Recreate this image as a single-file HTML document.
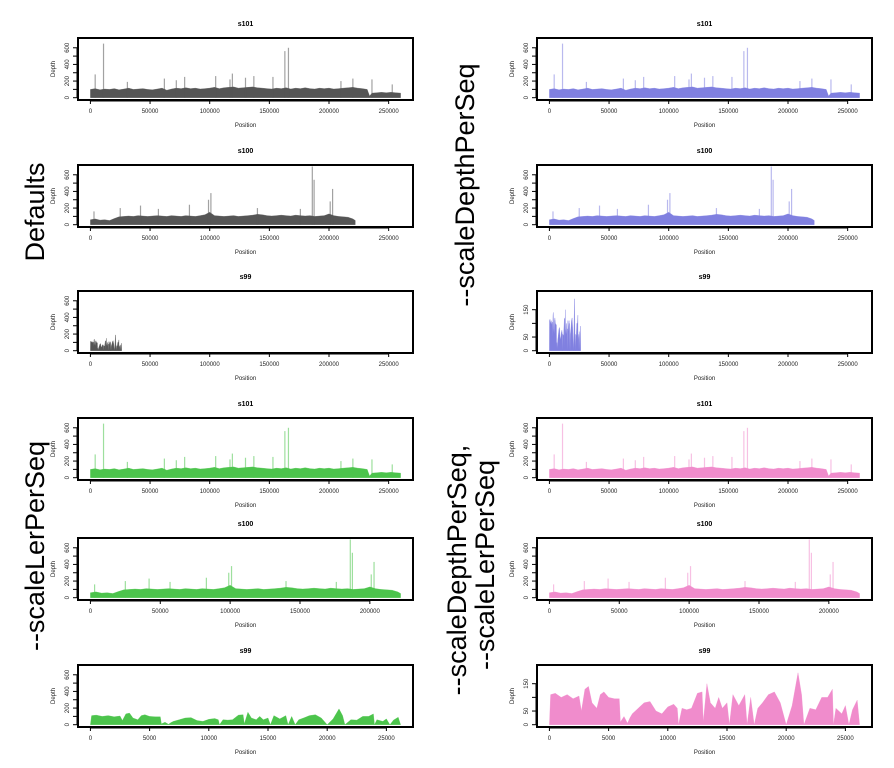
<!DOCTYPE html>
<html><head><meta charset="utf-8"><style>
body{margin:0;background:#fff;}
svg{display:block;font-family:"Liberation Sans",sans-serif;}
</style></head><body>
<svg id="fig" width="894" height="768" viewBox="0 0 894 768"></svg>
<script>
const s101Pos=[0,4000,8000,12000,16000,20000,24000,28000,32000,36000,40000,44000,48000,52000,56000,60000,64000,68000,72000,76000,80000,84000,88000,92000,96000,100000,104000,108000,112000,116000,120000,124000,128000,132000,136000,140000,144000,148000,152000,156000,160000,164000,168000,172000,176000,180000,184000,188000,192000,196000,200000,204000,208000,212000,216000,220000,224000,228000,232000,234000,236000,240000,244000,248000,252000,256000,260000];
const s101Val=[100,110,95,105,100,110,95,105,115,100,105,110,100,95,105,115,90,105,115,110,120,110,115,105,110,115,125,110,120,125,130,115,120,125,130,120,115,110,105,115,110,120,105,115,110,120,110,105,115,110,115,105,110,115,120,125,115,110,100,20,55,60,65,60,65,60,55];
const s101SpikePos=[4000,11000,31000,62000,72000,79000,105000,117000,119000,130000,137000,153000,163000,166000,210000,220000,236000,253000];
const s101SpikeVal=[280,650,190,230,210,250,260,220,290,240,260,250,560,600,200,230,220,160];
const s100Pos=[0,4000,8000,12000,16000,20000,24000,28000,32000,36000,40000,44000,48000,52000,56000,60000,64000,68000,72000,76000,80000,84000,88000,92000,96000,100000,104000,108000,112000,116000,120000,124000,128000,132000,136000,140000,144000,148000,152000,156000,160000,164000,168000,172000,176000,180000,184000,188000,192000,196000,200000,204000,208000,212000,216000,220000,222000];
const s100Val=[60,70,55,60,50,75,95,100,105,100,110,105,100,105,110,105,100,110,105,100,110,105,100,110,120,150,110,105,100,105,110,100,105,110,115,125,120,110,105,110,115,110,105,115,110,105,110,100,105,110,130,110,100,95,90,70,50];
const s100SpikePos=[3000,25000,42000,57000,83000,99000,101000,140000,176000,186000,187500,201000,203000];
const s100SpikeVal=[160,200,230,190,240,300,380,200,190,700,540,280,430];
const s99Pos=[0,100,500,1000,1500,2000,2500,2700,3000,3300,3600,4000,4300,4600,5000,5500,5900,6000,6300,6600,6800,7000,7500,8000,8500,9000,9500,10000,10500,10800,10900,11200,11600,12000,12500,12900,13000,13300,13600,14000,14300,14600,15000,15200,15500,16000,16500,16700,17000,17300,17600,18000,18500,19000,19500,20000,20500,21000,21300,21500,22000,22500,23000,23500,23900,24000,24200,24700,25000,25300,25600,26000,26200];
const s99Val=[0,110,115,100,110,95,105,50,130,140,80,60,110,120,100,95,95,10,30,5,25,40,60,80,85,50,40,65,75,60,0,60,55,60,115,120,10,150,80,60,100,60,80,0,110,70,110,0,100,0,60,80,110,120,80,0,70,190,110,0,60,55,100,100,130,0,60,40,70,0,55,90,0];
const xTicks101=[0,50000,100000,150000,200000,250000];
const xTicks100=[0,50000,100000,150000,200000];
const xTicks99=[0,5000,10000,15000,20000,25000];
const yTicksBig=[0,100,200,300,400,500,600];
const yLabelsBig=[0,200,400,600];
const yTicksSmall=[0,50,100,150];
const yLabelsSmall=[0,50,150];

const NS="http://www.w3.org/2000/svg";
const svg=document.getElementById('fig');
function mk(tag,attrs,parent){const e=document.createElementNS(NS,tag);for(const k in attrs)e.setAttribute(k,attrs[k]);(parent||svg).appendChild(e);return e;}

const seqs={
 s101:{pos:s101Pos,val:s101Val,sp:s101SpikePos,sv:s101SpikeVal,xmax:260000,ticks:xTicks101},
 s100:{pos:s100Pos,val:s100Val,sp:s100SpikePos,sv:s100SpikeVal,xmax:222000,ticks:xTicks100},
 s99:{pos:s99Pos,val:s99Val,sp:[],sv:[],xmax:26200,ticks:xTicks99}
};
const rowTops=[38,165,291,418,538,665];
const colLefts=[78,537];
const colors=[["#555555","#555555","#555555","#4cc44c","#4cc44c","#4cc44c"],["#8080e0","#8080e0","#8080e0","#f08ccc","#f08ccc","#f08ccc"]];
const rowSeq=["s101","s100","s99","s101","s100","s99"];

function panel(col,row){
  const name=rowSeq[row], d=seqs[name];
  const bx=colLefts[col], by=rowTops[row], bw=335, bh=62;
  const perSeq=row>=3;
  const xmax=perSeq?d.xmax:260000;
  const ticks=perSeq?d.ticks:xTicks101;
  const small=(col===1&&name==="s99");
  const ymax=small?210:690;
  const g=mk('g',{});
  
  
  const pw=bw/1.08, ph=bh/1.08;
  const x0=bx+0.04*pw, yb=by+bh-0.04*ph;
  const X=v=>x0+v/xmax*pw;
  const Y=v=>yb-v/ymax*ph;
  const c=colors[col][row];
  let p='M'+X(d.pos[0])+','+Y(0);
  for(let i=0;i<d.pos.length;i++)p+=' L'+X(d.pos[i]).toFixed(1)+','+Y(d.val[i]).toFixed(1);
  p+=' L'+X(d.pos[d.pos.length-1])+','+Y(0)+' Z';
  const a=mk('path',{d:p,fill:c,stroke:c,'stroke-width':0.3},g);
  
  
  for(let i=0;i<d.sp.length;i++){
    const l=mk('line',{x1:X(d.sp[i]),x2:X(d.sp[i]),y1:Y(0),y2:Y(d.sv[i]),stroke:c,'stroke-width':1.2,'stroke-opacity':0.55},g);
    
    
  }
  const box=mk('rect',{x:bx,y:by,width:bw,height:bh,fill:'none',stroke:'#000','stroke-width':2},g);
  
  
  const t=mk('text',{x:bx+bw/2,y:by-12,'font-size':7,'font-weight':'bold','text-anchor':'middle'},g);
  t.textContent=name;
  
  
  mk('line',{x1:X(ticks[0]),x2:X(ticks[ticks.length-1]),y1:by+bh+1,y2:by+bh+1,stroke:'#000','stroke-width':1},g);
  ticks.forEach(v=>{
    mk('line',{x1:X(v),x2:X(v),y1:by+bh,y2:by+bh+4,stroke:'#000','stroke-width':1},g);
    const tx=mk('text',{x:X(v),y:by+bh+13,'font-size':6,'text-anchor':'middle',fill:'#222'},g);
    tx.textContent=v;
    
    
  });
  const xl=mk('text',{x:bx+bw/2,y:by+bh+27,'font-size':6,'text-anchor':'middle',fill:'#222'},g);
  xl.textContent='Position';
  
  
  const yt=small?yTicksSmall:yTicksBig, yl=small?yLabelsSmall:yLabelsBig;
  mk('line',{x1:bx-1,x2:bx-1,y1:Y(yt[0]),y2:Y(yt[yt.length-1]),stroke:'#000','stroke-width':1},g);
  yt.forEach(v=>mk('line',{x1:bx-5,x2:bx,y1:Y(v),y2:Y(v),stroke:'#000','stroke-width':1},g));
  yl.forEach(v=>{
    const ty=mk('text',{x:0,y:0,'font-size':6,'text-anchor':'middle',fill:'#222',transform:'translate('+(bx-9)+','+Y(v)+') rotate(-90)'},g);
    ty.textContent=v;
    
    
  });
  const ya=mk('text',{x:0,y:0,'font-size':6,'text-anchor':'middle',fill:'#222',transform:'translate('+(bx-23)+','+(by+bh/2)+') rotate(-90)'},g);
  ya.textContent='Depth';
  
  
}
for(let c=0;c<2;c++)for(let r=0;r<6;r++)panel(c,r);

function side(txt,x,y,nm){
  const t=mk('text',{x:0,y:0,'font-size':27,'text-anchor':'middle',fill:'#000',transform:'translate('+x+','+y+') rotate(-90)'});
  t.textContent=txt;
  
  
}
side('Defaults',44,212,'label-defaults');
side('--scaleDepthPerSeq',474,185,'label-scale-depth');
side('--scaleLerPerSeq',44,546,'label-scale-ler');
side('--scaleDepthPerSeq,',466,570,'label-scale-both-1');
side('--scaleLerPerSeq',494,565,'label-scale-both-2');
</script>
</body></html>
